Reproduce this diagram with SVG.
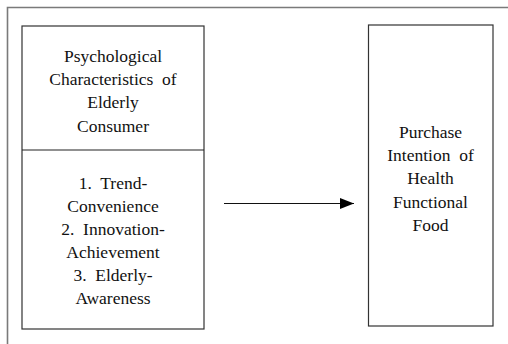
<svg xmlns="http://www.w3.org/2000/svg" width="508" height="344" viewBox="0 0 508 344">
<style>
.t{font-family:'Liberation Serif','DejaVu Serif',serif;font-size:17.5px;fill:#111;text-anchor:middle;white-space:pre}
.box{fill:#fff;stroke:#333;stroke-width:1.2}
.frame{fill:none;stroke:#7a7a7a;stroke-width:1.6}
</style>
<defs>
<marker id="ah" markerWidth="14" markerHeight="11" refX="14" refY="5.5" orient="auto" markerUnits="userSpaceOnUse">
<path d="M0,0 L14,5.5 L0,11 Z" fill="#000"/>
</marker>
</defs>
<rect width="508" height="344" fill="#fff"/>
<path class="frame" d="M7.5,344 V7.5 H508"/>
<g id="psych-node">
<rect class="box" x="22" y="26" width="182" height="303"/>
<line x1="22" y1="150" x2="204" y2="150" stroke="#222" stroke-width="1.2"/>
<text class="t" x="113" y="61.5" xml:space="preserve">Psychological</text>
<text class="t" x="113" y="85" xml:space="preserve">Characteristics  of</text>
<text class="t" x="113" y="108.3">Elderly</text>
<text class="t" x="113" y="131.5">Consumer</text>
<text class="t" x="113" y="188.5" xml:space="preserve">1.  Trend-</text>
<text class="t" x="113" y="211.5">Convenience</text>
<text class="t" x="113" y="234.5" xml:space="preserve">2.  Innovation-</text>
<text class="t" x="113" y="257.7">Achievement</text>
<text class="t" x="113" y="281" xml:space="preserve">3.  Elderly-</text>
<text class="t" x="113" y="304.3">Awareness</text>
</g>
<g id="purchase-node">
<rect class="box" x="368.5" y="25" width="124.5" height="301"/>
<text class="t" x="430.5" y="138">Purchase</text>
<text class="t" x="430.5" y="161" xml:space="preserve">Intention  of</text>
<text class="t" x="430.5" y="184.3">Health</text>
<text class="t" x="430.5" y="207.7">Functional</text>
<text class="t" x="430.5" y="230.5">Food</text>
</g>
<g id="connectors">
<line x1="224" y1="203.5" x2="354" y2="203.5" stroke="#111" stroke-width="1.2" marker-end="url(#ah)"/>
</g>
</svg>
